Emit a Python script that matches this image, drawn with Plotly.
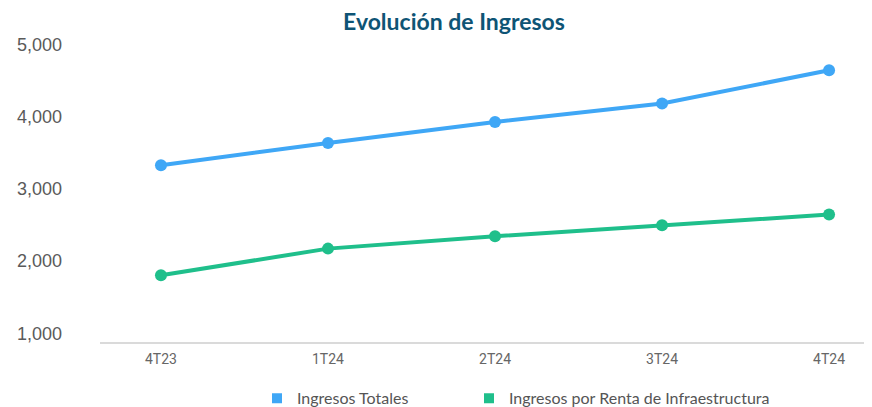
import plotly.graph_objects as go

# ---- data ----
quarters = ["4T23", "1T24", "2T24", "3T24", "4T24"]
ingresos_totales = [3325, 3634, 3925, 4179, 4640]
ingresos_renta = [1803, 2172, 2343, 2495, 2643]
y_ticks = [1000, 2000, 3000, 4000, 5000]
y_tick_text = ["1,000", "2,000", "3,000", "4,000", "5,000"]

series_names = ["Ingresos Totales", "Ingresos por Renta de Infraestructura"]
colors = ["#3FA7F6", "#1FBF8B"]
legend_ids = ["legend", "legend2"]

fig = go.Figure()
for name, vals, col, lg in zip(series_names, [ingresos_totales, ingresos_renta], colors, legend_ids):
    fig.add_trace(go.Scatter(
        x=quarters, y=vals, mode="lines+markers", name=name,
        line=dict(color=col, width=4),
        marker=dict(color=col, size=12),
        showlegend=False, hoverinfo="x+y+name",
    ))
    # legend entry with square swatch
    fig.add_trace(go.Scatter(
        x=[None], y=[None], mode="markers", name=name,
        marker=dict(color=col, size=10, symbol="square"),
        showlegend=True, legend=lg,
    ))

legend_font = dict(family="Lato", size=16, color="#555555")

W, H = 872, 407
fig.update_layout(
    width=W, height=H,
    margin=dict(l=92, r=8, t=29, b=73, autoexpand=False),
    paper_bgcolor="white", plot_bgcolor="white",
    title=dict(
        text="<b>Evolución de Ingresos</b>",
        font=dict(family="Lato", size=23, color="#0E5475"),
        x=446 / W, xanchor="center", y=1 - 13.5 / H, yanchor="middle",
    ),
    xaxis=dict(
        type="category", categoryorder="array", categoryarray=quarters,
        range=[-0.365, 4.257], automargin=False,
        showgrid=False, zeroline=False,
        showline=True, linecolor="#DADADA", linewidth=2,
        ticks="", ticklabelstandoff=3,
        tickfont=dict(family="Roboto", size=14, color="#666666"),
    ),
    yaxis=dict(
        range=[880, 5100], automargin=False,
        tickvals=y_ticks, ticktext=y_tick_text,
        showgrid=False, zeroline=False, showline=False,
        ticks="", ticklabelstandoff=37,
        tickfont=dict(family="Liberation Sans", size=18, color="#5A5A5A"),
    ),
    legend=dict(
        orientation="h", x=(249 - 92) / 772, xanchor="left", y=-0.1846, yanchor="middle",
        font=legend_font, bgcolor="rgba(0,0,0,0)",
    ),
    legend2=dict(
        orientation="h", x=(461 - 92) / 772, xanchor="left", y=-0.1846, yanchor="middle",
        font=legend_font, bgcolor="rgba(0,0,0,0)",
    ),
)

fig.write_html("out.html")
